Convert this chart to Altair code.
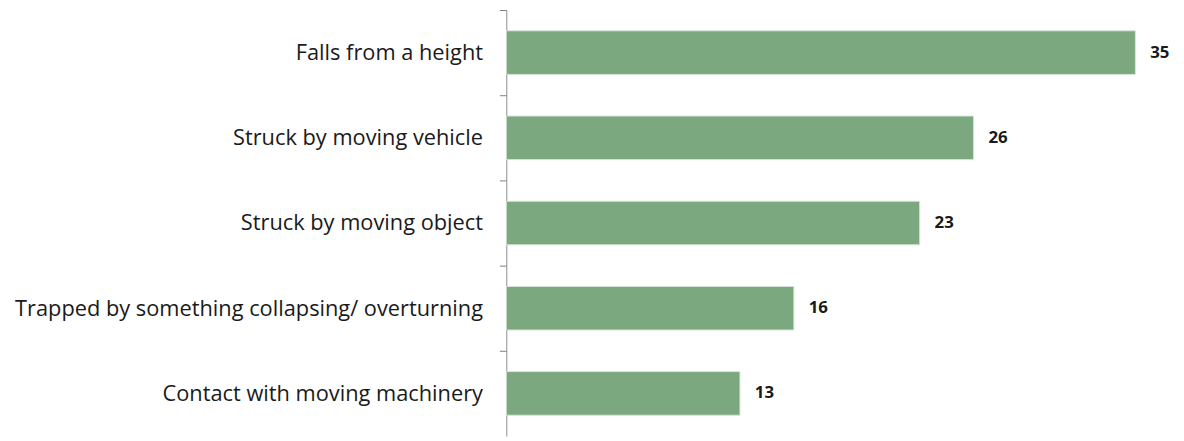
import altair as alt
import pandas as pd

categories = [
    "Falls from a height",
    "Struck by moving vehicle",
    "Struck by moving object",
    "Trapped by something collapsing/ overturning",
    "Contact with moving machinery",
]
values = [35, 26, 23, 16, 13]

df = pd.DataFrame({"cause": categories, "value": values})

FONT = "Open Sans"

y = alt.Y(
    "cause:N",
    sort=categories,
    title=None,
    scale=alt.Scale(paddingInner=0.488, paddingOuter=0.244),
    axis=alt.Axis(
        domainColor="#8c8c8c",
        ticks=True,
        tickColor="#7f7f7f",
        tickSize=7,
        tickWidth=1,
        tickOffset=-43,
        labelOffset=43,
        tickExtra=True,
        labelPadding=17,
        labelFont=FONT,
        labelFontSize=22,
        labelColor="#1a1a1a",
        labelLimit=600,
        grid=False,
    ),
)
x = alt.X("value:Q", title=None, axis=None,
          scale=alt.Scale(domain=[0, 37.26], nice=False, zero=True))

bars = alt.Chart(df).mark_bar(color="#7BA87F", stroke="#d9e6da", strokeWidth=1).encode(x=x, y=y)
labels = alt.Chart(df).mark_text(
    align="left", baseline="middle", dx=15, font=FONT, fontSize=17,
    fontWeight="bold", color="#1a1a1a"
).encode(x=x, y=y, text="value:Q")

chart = (bars + labels).properties(
    width=676, height=430,
    padding={"left": 503, "top": 0, "right": 0, "bottom": 3},
    autosize=alt.AutoSizeParams(type="none"),
).configure_view(stroke=None)

chart.save("out.html", embed_options={"renderer": "svg", "actions": False})
